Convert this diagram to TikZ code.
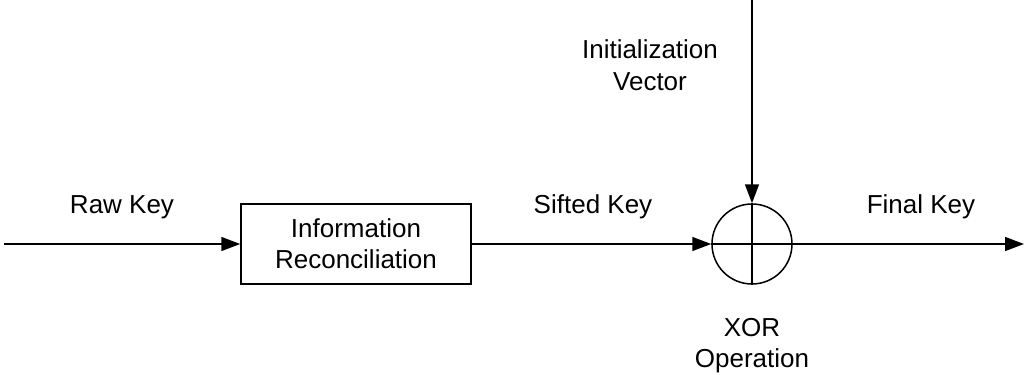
\documentclass[tikz,border=0pt]{standalone}
\usepackage{fontspec}
\setmainfont{Liberation Sans}
\usetikzlibrary{arrows.meta}
\begin{document}
\begin{tikzpicture}[x=1pt,y=-1pt,
  wire/.style={line width=1.5pt,-{Triangle[length=19pt,width=14pt]}},
  plain/.style={line width=1.5pt},
  lbl/.style={font=\fontsize{26}{32}\selectfont,align=center,inner sep=0pt,anchor=base},
  blockbox/.style={draw,line width=1.5pt,minimum width=230pt,minimum height=80pt,inner sep=0pt},
  xorring/.style={draw,circle,line width=1.5pt,minimum size=80pt,inner sep=0pt}]
  \useasboundingbox (0,0) rectangle (1026,375);
  % blocks
  \node[blockbox] (rec) at (356,244) {};
  \node[xorring] (xor) at (752,244) {};
  \coordinate (in) at (4,244);
  \coordinate (out) at (1024,244);
  \coordinate (iv) at (752,0);
  % cross inside the XOR symbol
  \draw[plain] (xor.west) -- (xor.east);
  \draw[plain] (xor.north) -- (xor.south);
  % signal flow
  \draw[wire] (in) -- (rec.west);
  \draw[wire] (rec.east) -- (xor.west);
  \draw[wire] (iv) -- (xor.north);
  \draw[wire] (xor.east) -- (out);
  % labels
  \node[lbl] (rawk) at (122,213) {Raw Key};
  \node[lbl] (info) at (356,237) {Information};
  \node[lbl] (reco) at (356,268) {Reconciliation};
  \node[lbl] (sift) at (593,213) {Sifted Key};
  \node[lbl] (fink) at (921,213) {Final Key};
  \node[lbl] (ini) at (650,58) {Initialization};
  \node[lbl] (vec) at (650,90) {Vector};
  \node[lbl] (xorl) at (752,336) {XOR};
  \node[lbl] (oper) at (752,367) {Operation};
\end{tikzpicture}
\end{document}
